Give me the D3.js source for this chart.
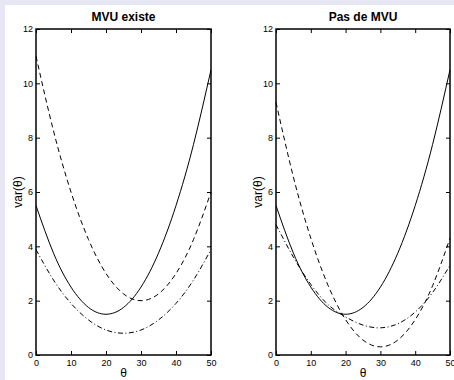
<!DOCTYPE html>
<html>
<head>
<meta charset="utf-8">
<script src="https://cdn.jsdelivr.net/npm/d3@7"></script>
<style>
html, body { margin:0; padding:0; background:#e6e6f4; }
svg { display:block; }
text { font-family: "Liberation Sans", Arial, Helvetica, sans-serif; fill:#000; }
</style>
</head>
<body>
<script>
// valeurs (theta tous les 5)
var thetaValues = [0, 5, 10, 15, 20, 25, 30, 35, 40, 45, 50];
var xTicks = [0, 10, 20, 30, 40, 50];
var yTicks = [0, 2, 4, 6, 8, 10, 12];
var panelTitles = ["MVU existe", "Pas de MVU"];

// MVU existe
var leftSolid   = [5.5, 3.75, 2.5, 1.75, 1.5, 1.75, 2.5, 3.75, 5.5, 7.75, 10.5];
var leftDashed  = [11, 8.25, 6, 4.25, 3, 2.25, 2, 2.25, 3, 4.25, 6];
var leftDashDot = [3.88, 2.76, 1.9, 1.29, 0.92, 0.8, 0.92, 1.29, 1.9, 2.76, 3.88];

// Pas de MVU
var rightSolid   = [5.5, 3.75, 2.5, 1.75, 1.5, 1.75, 2.5, 3.75, 5.5, 7.75, 10.5];
var rightDashed  = [9.3, 6.55, 4.3, 2.55, 1.3, 0.55, 0.3, 0.55, 1.3, 2.55, 4.3];
var rightDashDot = [4.8, 3.6, 2.6, 1.85, 1.4, 1.1, 1.0, 1.15, 1.58, 2.3, 3.3];

var W = 454, H = 380;
var svg = d3.select("body").append("svg").attr("width", W).attr("height", H);

// fond blanc de la figure
svg.append("rect").attr("x", 5).attr("y", 5).attr("width", W - 5).attr("height", H - 5).attr("fill", "#fff");

var dashStyles = { solid: null, dashed: "5,3.5", dashdot: "5,2.5,1,2.5" };

function drawPanel(rect, title, series){
	var x0 = rect[0], y0 = rect[1], w = rect[2], h = rect[3];
	var g = svg.append("g").attr("transform", "translate(" + x0 + "," + y0 + ")");
	var x = d3.scaleLinear().domain([0, 50]).range([0, w]);
	var y = d3.scaleLinear().domain([0, 12]).range([h, 0]);

	var line = d3.line()
		.x(function(d){ return x(d[0]); })
		.y(function(d){ return y(d[1]); })
		.curve(d3.curveNatural);

	series.forEach(function(s){
		var pts = thetaValues.map(function(t, i){ return [t, s.values[i]]; });
		g.append("path")
			.attr("d", line(pts))
			.attr("fill", "none")
			.attr("stroke", "#000")
			.attr("stroke-width", 1)
			.attr("stroke-dasharray", dashStyles[s.style]);
	});

	// axes, ticks vers l'interieur
	var bottom = g.append("g").attr("transform", "translate(0," + h + ")")
		.call(d3.axisBottom(x).tickValues(xTicks).tickSizeInner(-4).tickSizeOuter(0).tickPadding(5));
	var left = g.append("g")
		.call(d3.axisLeft(y).tickValues(yTicks).tickSizeInner(-4).tickSizeOuter(0).tickPadding(3));
	var top = g.append("g")
		.call(d3.axisTop(x).tickValues(xTicks).tickSizeInner(-4).tickSizeOuter(0).tickFormat(""));
	var right = g.append("g").attr("transform", "translate(" + w + ",0)")
		.call(d3.axisRight(y).tickValues(yTicks).tickSizeInner(-4).tickSizeOuter(0).tickFormat(""));

	[bottom, left, top, right].forEach(function(a){
		a.select(".domain").remove();
		a.selectAll("line").attr("stroke", "#000").attr("stroke-width", 1);
		a.selectAll("text").attr("font-size", 9).attr("fill", "#000")
			.style("font-family", "'Liberation Sans', Arial, Helvetica, sans-serif");
	});

	g.append("rect")
		.attr("x", 0).attr("y", 0).attr("width", w).attr("height", h)
		.attr("fill", "none").attr("stroke", "#000").attr("stroke-width", 1.5);

	g.append("text")
		.attr("x", w / 2).attr("y", -8)
		.attr("text-anchor", "middle")
		.attr("font-size", 12).attr("font-weight", "bold")
		.text(title);

	g.append("text")
		.attr("x", w / 2).attr("y", h + 22)
		.attr("text-anchor", "middle")
		.attr("font-size", 12)
		.text("θ");

	g.append("text")
		.attr("transform", "translate(-14," + (h / 2) + ") rotate(-90)")
		.attr("text-anchor", "middle")
		.attr("font-size", 12)
		.text("var(θ)");
}

drawPanel([36, 29, 175, 326], panelTitles[0], [
	{ values: leftSolid, style: "solid" },
	{ values: leftDashed, style: "dashed" },
	{ values: leftDashDot, style: "dashdot" }
]);
drawPanel([276, 29, 174, 326], panelTitles[1], [
	{ values: rightSolid, style: "solid" },
	{ values: rightDashed, style: "dashed" },
	{ values: rightDashDot, style: "dashdot" }
]);
</script>
</body>
</html>
